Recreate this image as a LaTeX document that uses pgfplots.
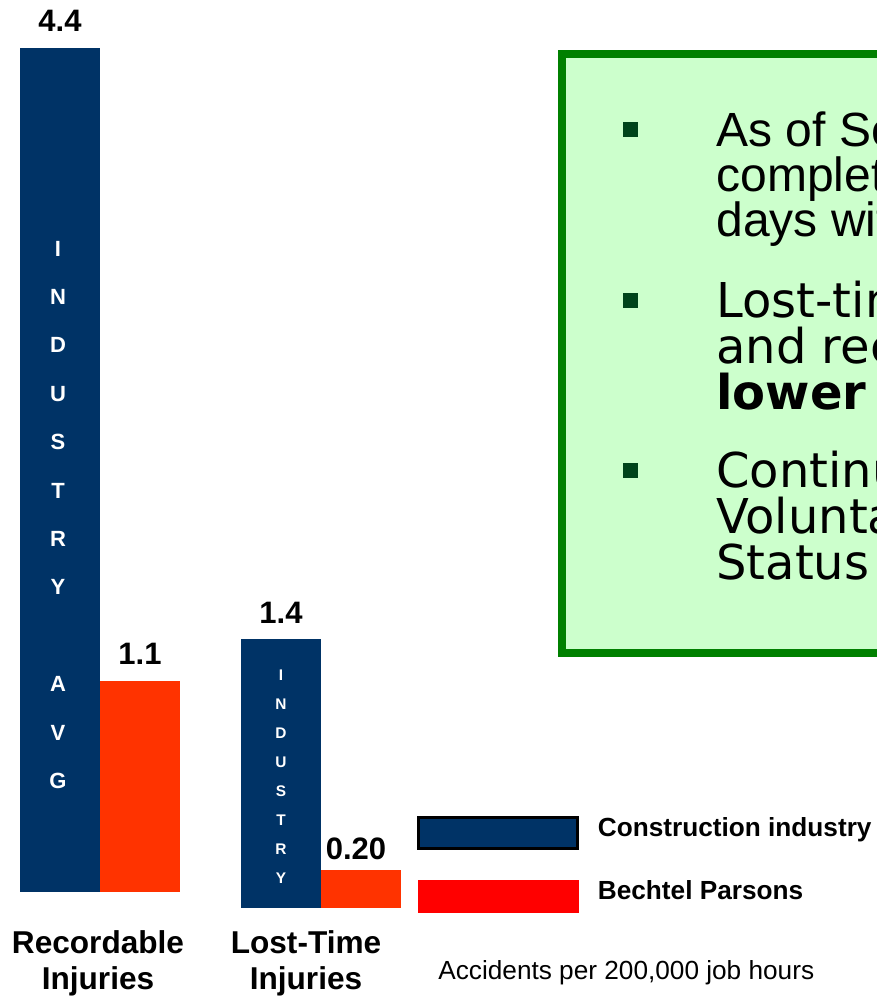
\documentclass[border=0pt]{standalone}
\usepackage{pgfplots}
\pgfplotsset{compat=1.18}
\usepackage{fontspec}
\setmainfont{Liberation Sans}
\newfontfamily\dejavu{DejaVu Sans}
\definecolor{navy}{HTML}{003366}
\definecolor{barred}{HTML}{FF3300}
\definecolor{boxgreen}{HTML}{008000}
\definecolor{boxfill}{HTML}{CCFFCC}
\definecolor{bulletgreen}{HTML}{00441B}

\pgfplotsset{
  injaxis/.style={
    x=110.5pt, y=95.9pt, xmin=-0.5, xmax=1.5, ymin=0, ymax=4.6,
    anchor=origin, clip=false,
    ybar, bar width=40pt,
    axis line style={draw=none}, major tick length=0pt, ytick=\empty,
    xticklabel style={font=\fontsize{15.8}{18}\selectfont\bfseries, align=center, inner sep=0pt, anchor=north},
    point meta=explicit symbolic,
    nodes near coords, nodes near coords align={vertical},
    every node near coord/.append style={font=\fontsize{15.5}{18}\selectfont\bfseries, color=black, anchor=south, inner sep=0pt, yshift=8pt},
  }
}

\begin{document}
\begin{tikzpicture}
\useasboundingbox (0,0) rectangle (438.5pt,-498pt);
\clip (0,0) rectangle (438.5pt,-498pt);

\begin{scope}[x=0.5pt,y=-0.5pt]
  % text box
  \draw[boxgreen, line width=4pt, fill=boxfill] (562,54) rectangle (930,653);
  \fill[bulletgreen] (623,122) rectangle (638,137);
  \fill[bulletgreen] (623,293) rectangle (638,308);
  \fill[bulletgreen] (623,463) rectangle (638,478);
  \begin{scope}[every node/.style={anchor=base west, inner sep=0pt}]
    \node[font=\fontsize{24}{24}\selectfont] at (716,146) {As of September};
    \node[font=\fontsize{24}{24}\selectfont] at (716,191) {completed};
    \node[font=\fontsize{24}{24}\selectfont] at (716,236) {days without};
    \node[font=\dejavu\fontsize{24}{24}\selectfont] at (716,317) {Lost-time};
    \node[font=\dejavu\fontsize{24}{24}\selectfont] at (716,363) {and recordable};
    \node[font=\dejavu\fontsize{24}{24}\selectfont\bfseries] at (716,409) {lower than};
    \node[font=\dejavu\fontsize{24}{24}\selectfont] at (716,487) {Continued};
    \node[font=\dejavu\fontsize{24}{24}\selectfont] at (716,533) {Voluntary};
    \node[font=\dejavu\fontsize{24}{24}\selectfont] at (716,579) {Status};
    \node[font=\fontsize{13.1}{15}\selectfont] at (438,979) {Accidents per 200,000 job hours};
  \end{scope}
\end{scope}

\begin{axis}[injaxis, at={(50pt,-446pt)}, xtick={0}, xticklabels={{Recordable\\Injuries}},
  xticklabel style={yshift=-19pt, xshift=-1pt}]
  \addplot[fill=navy, draw=none, bar shift=-20pt] coordinates {(0,4.4) [4.4]};
  \addplot[fill=barred, draw=none, bar shift=20pt] coordinates {(0,1.1) [1.1]};
\end{axis}

\begin{axis}[injaxis, at={(50pt,-454pt)}, xtick={1}, xticklabels={{Lost-Time\\Injuries}},
  xticklabel style={yshift=-11pt, xshift=-7.5pt},
  legend cell align=left,
  legend style={at={(0.967,0.1071)}, anchor=north west, draw=none, fill=none,
    inner sep=0pt, outer sep=0pt, row sep=13.75pt,
    font=\fontsize{13.1}{15}\selectfont\bfseries,
    /tikz/every odd column/.append style={column sep=7.5pt}}]
  \addplot[fill=navy, draw=none, bar shift=-20pt, forget plot] coordinates {(1,1.4) [1.4]};
  \addplot[fill=barred, draw=none, bar shift=20pt, forget plot,
    every node near coord/.append style={yshift=-3.5pt, xshift=-2.5pt}] coordinates {(1,0.20) [0.20]};
  \addlegendimage{legend image code/.code={\draw[fill=navy, draw=black, line width=1.5pt] (0pt,-9.75pt) rectangle (79.5pt,5.75pt);}}
  \addlegendentry{Construction industry}
  \addlegendimage{legend image code/.code={\fill[red] (0pt,-10pt) rectangle (80pt,6pt);}}
  \addlegendentry{Bechtel Parsons}
\end{axis}

\begin{scope}[x=0.5pt,y=-0.5pt]
  \foreach \l [count=\i from 0] in {I,N,D,U,S,T,R,Y,{},A,V,G}
    \node[anchor=base, inner sep=0pt, text=white, font=\fontsize{11}{11}\selectfont\bfseries] at (58,{256+48.4*\i}) {\l};
  \foreach \l [count=\i from 0] in {I,N,D,U,S,T,R,Y}
    \node[anchor=base, inner sep=0pt, text=white, font=\fontsize{7.7}{8}\selectfont\bfseries] at (281,{680+29*\i}) {\l};
\end{scope}
\end{tikzpicture}
\end{document}
